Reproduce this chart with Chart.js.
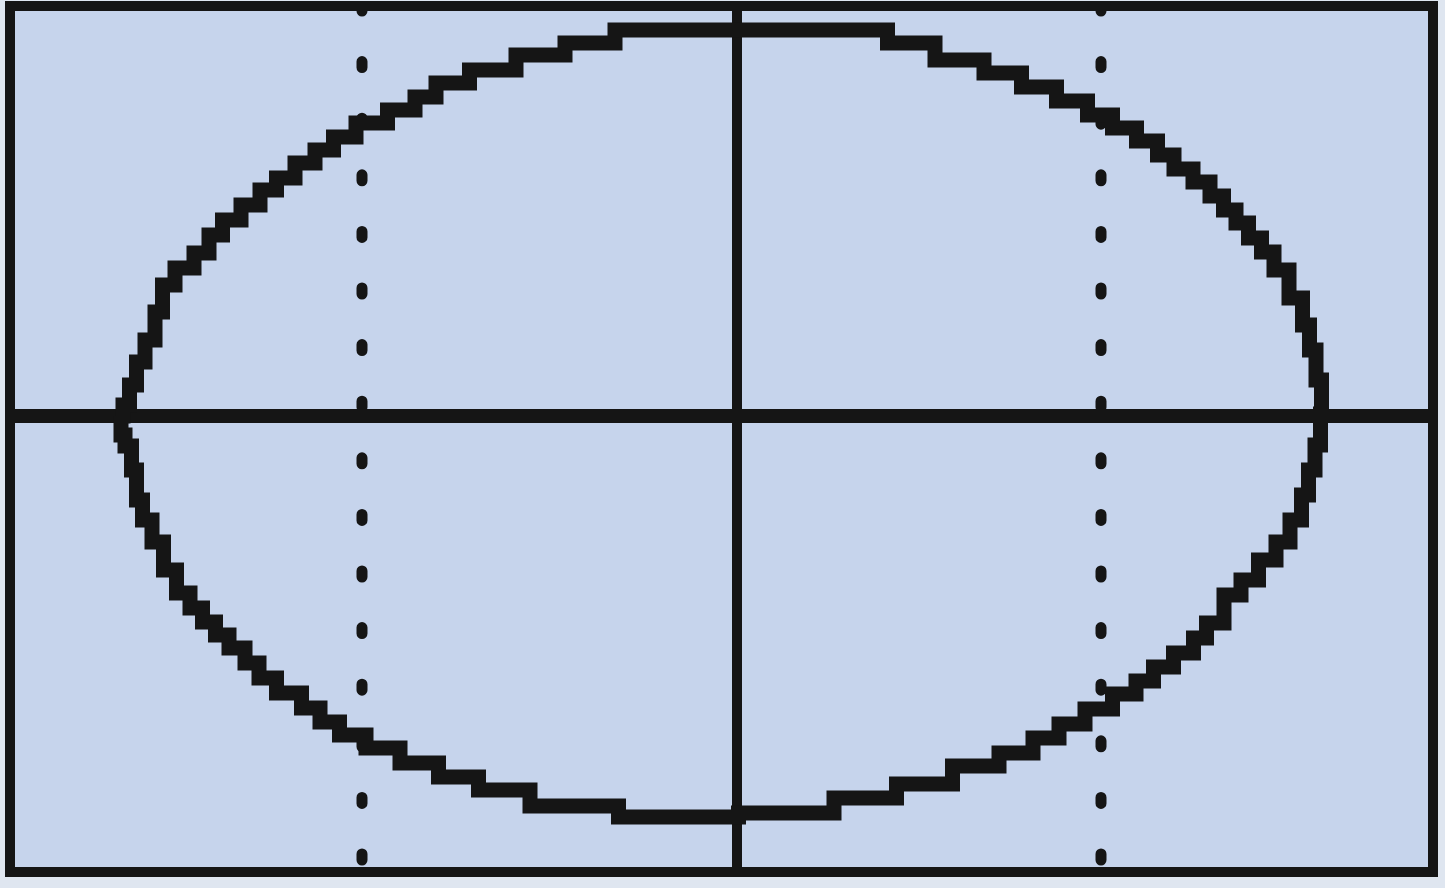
<!DOCTYPE html>
<html>
<head>
<meta charset="utf-8">
<title>Ellipse</title>
<script src="https://cdn.jsdelivr.net/npm/chart.js@4.4.1/dist/chart.umd.min.js"></script>
<style>
    html, body { margin: 0; padding: 0; background: #dfe6f0; }
    canvas { display: block; }
</style>
</head>
<body>
<canvas id="graphCanvas" width="1445" height="888"></canvas>
<script>
// window of the calculator screen
const xWindow = [-7.27, 6.96];
const yWindow = [-4.56, 4.10];

// the two dotted vertical lines
const dottedLineX = [-3.75, 3.64];

// the traced curve, going clockwise from the left end
const ellipseX = [
    -6.17, -6.11, -6.04, -5.97, -5.87, -5.77, -5.72, -5.52, -5.34, -5.22,
    -5.07, -4.85, -4.69, -4.52, -4.32, -4.12, -3.95, -3.67, -3.32, -3.12,
    -2.90, -2.45, -1.97, -1.47, -0.97, 0.18, 1.33, 1.68, 2.28, 2.66,
    3.03, 3.36, 3.65, 3.86, 4.13, 4.28, 4.46, 4.66, 4.80, 4.93,
    5.05, 5.18, 5.31, 5.43, 5.61, 5.70, 5.75, 5.83, 5.86,
    5.81, 5.75, 5.68, 5.61, 5.45, 5.33, 5.10, 4.98, 4.76, 4.63,
    4.50, 4.23, 4.10, 3.88, 3.63, 3.33, 3.11, 2.81, 2.43, 1.88,
    1.31, 0.63, -0.60, -1.77, -2.37, -2.80, -3.17, -3.57, -3.85, -4.10,
    -4.24, -4.47, -4.74, -4.82, -5.02, -5.14, -5.29, -5.40, -5.54, -5.67,
    -5.80, -5.90, -5.99, -6.02, -6.09, -6.15, -6.17
];
const ellipseY = [
    0.00, 0.11, 0.31, 0.54, 0.76, 1.04, 1.31, 1.48, 1.63, 1.81,
    1.96, 2.11, 2.26, 2.38, 2.53, 2.66, 2.79, 2.93, 3.06, 3.19,
    3.33, 3.46, 3.61, 3.73, 3.86, 3.86, 3.86, 3.73, 3.56, 3.43,
    3.29, 3.15, 3.01, 2.88, 2.75, 2.61, 2.47, 2.34, 2.20, 2.06,
    1.93, 1.78, 1.64, 1.46, 1.18, 0.91, 0.66, 0.36, 0.02,
    -0.29, -0.54, -0.79, -1.04, -1.26, -1.44, -1.64, -1.79, -2.07, -2.22,
    -2.37, -2.51, -2.65, -2.78, -2.93, -3.08, -3.22, -3.37, -3.50, -3.68,
    -3.82, -3.97, -4.01, -3.90, -3.74, -3.61, -3.47, -3.32, -3.19, -3.06,
    -2.92, -2.77, -2.62, -2.47, -2.32, -2.19, -2.06, -1.92, -1.77, -1.54,
    -1.26, -1.04, -0.84, -0.54, -0.30, -0.19, 0.00
];

const screenColor = "#c6d4ec";
const ink = "#151515";

function toPoints(xs, ys) {
    return xs.map((x, i) => ({ x: x, y: ys[i] }));
}

// LCD background and the frame around it
const screenPlugin = {
    id: "screen",
    beforeDraw(chart) {
        const { ctx, chartArea: a } = chart;
        ctx.save();
        ctx.fillStyle = screenColor;
        ctx.fillRect(a.left, a.top, a.right - a.left, a.bottom - a.top);
        ctx.restore();
    },
    afterDraw(chart) {
        const { ctx, chartArea: a } = chart;
        ctx.save();
        ctx.strokeStyle = ink;
        ctx.lineWidth = 10;
        ctx.strokeRect(a.left, a.top, a.right - a.left, a.bottom - a.top);
        ctx.restore();
    }
};

const lineBase = {
    showLine: true,
    pointRadius: 0,
    borderColor: ink,
    fill: false,
    tension: 0
};

const datasets = [
    Object.assign({}, lineBase, {
        label: "curve",
        data: toPoints(ellipseX, ellipseY),
        borderWidth: 15,
        stepped: "middle",
        borderJoinStyle: "miter"
    }),
    Object.assign({}, lineBase, {
        label: "x axis",
        data: toPoints(xWindow, [0, 0]),
        borderWidth: 14
    }),
    Object.assign({}, lineBase, {
        label: "y axis",
        data: toPoints([0, 0], [yWindow[1], yWindow[0]]),
        borderWidth: 10
    })
];

dottedLineX.forEach(x => {
    datasets.push(Object.assign({}, lineBase, {
        label: "x = " + x,
        data: toPoints([x, x], [yWindow[1], yWindow[0]]),
        borderWidth: 11,
        borderDash: [6, 50.6],
        borderDashOffset: 1,
        borderCapStyle: "round"
    }));
});

new Chart(document.getElementById("graphCanvas").getContext("2d"), {
    type: "scatter",
    data: { datasets: datasets },
    options: {
        responsive: false,
        animation: false,
        layout: {
            padding: { left: 10, right: 12, top: 6, bottom: 16 }
        },
        scales: {
            x: { type: "linear", display: false, min: xWindow[0], max: xWindow[1] },
            y: { type: "linear", display: false, min: yWindow[0], max: yWindow[1] }
        },
        plugins: {
            legend: { display: false },
            tooltip: { enabled: false }
        }
    },
    plugins: [screenPlugin]
});
</script>
</body>
</html>
